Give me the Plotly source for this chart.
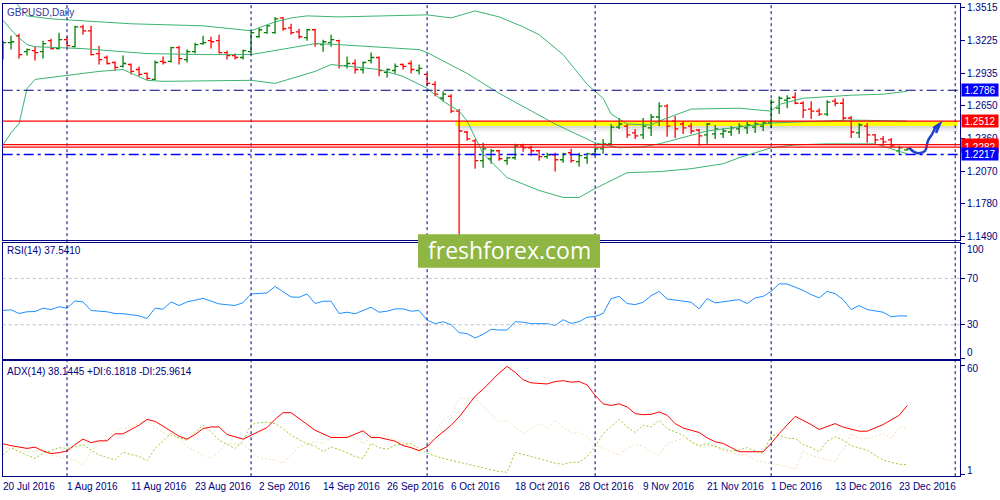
import plotly.graph_objects as go

# ======================================================
# Data (bar index 0 = 20 Jul 2016, one bar per trading day)
# ======================================================

bar_open = [1.3128, 1.3208, 1.3269, 1.3128, 1.3137, 1.3128, 1.3225, 1.3155, 1.3234, 1.3172,
            1.3348, 1.3313, 1.3111, 1.3076, 1.3032, 1.2997, 1.3014, 1.2970, 1.2935, 1.2882,
            1.3041, 1.3041, 1.3164, 1.3058, 1.3128, 1.3199, 1.3225, 1.3225, 1.3120, 1.3093,
            1.3076, 1.3128, 1.3260, 1.3296, 1.3296, 1.3427, 1.3339, 1.3304, 1.3252, 1.3322,
            1.3190, 1.3208, 1.3225, 1.3005, 1.3023, 1.2970, 1.3049, 1.3076, 1.2944, 1.2961,
            1.3014, 1.3023, 1.2961, 1.2926, 1.2838, 1.2715, 1.2733, 1.2601, 1.2416, 1.2338,
            1.2162, 1.2179, 1.2250, 1.2162, 1.2188, 1.2294, 1.2276, 1.2250, 1.2197, 1.2214,
            1.2170, 1.2232, 1.2153, 1.2188, 1.2223, 1.2267, 1.2311, 1.2460, 1.2469, 1.2408,
            1.2390, 1.2452, 1.2549, 1.2645, 1.2513, 1.2487, 1.2469, 1.2434, 1.2390, 1.2399,
            1.2399, 1.2416, 1.2443, 1.2452, 1.2460, 1.2469, 1.2496, 1.2627, 1.2698, 1.2724,
            1.2671, 1.2619, 1.2601, 1.2575, 1.2689, 1.2671, 1.2540, 1.2408, 1.2469, 1.2390,
            1.2355, 1.2346, 1.2250, 1.2258]
bar_high = [1.3225, 1.3269, 1.3287, 1.3155, 1.3172, 1.3225, 1.3243, 1.3296, 1.3260, 1.3357,
            1.3366, 1.3357, 1.3181, 1.3093, 1.3041, 1.3093, 1.3023, 1.2997, 1.2944, 1.3049,
            1.3085, 1.3172, 1.3181, 1.3146, 1.3208, 1.3269, 1.3260, 1.3278, 1.3137, 1.3111,
            1.3146, 1.3304, 1.3339, 1.3366, 1.3436, 1.3436, 1.3375, 1.3331, 1.3331, 1.3331,
            1.3234, 1.3278, 1.3234, 1.3085, 1.3058, 1.3041, 1.3120, 1.3085, 1.2979, 1.3023,
            1.3023, 1.3049, 1.3014, 1.2935, 1.2865, 1.2777, 1.2751, 1.2619, 1.2425, 1.2355,
            1.2320, 1.2267, 1.2258, 1.2197, 1.2311, 1.2311, 1.2294, 1.2258, 1.2232, 1.2232,
            1.2232, 1.2267, 1.2232, 1.2232, 1.2276, 1.2355, 1.2487, 1.2540, 1.2487, 1.2443,
            1.2540, 1.2575, 1.2680, 1.2663, 1.2557, 1.2513, 1.2496, 1.2443, 1.2496, 1.2478,
            1.2452, 1.2469, 1.2496, 1.2504, 1.2513, 1.2513, 1.2707, 1.2733, 1.2742, 1.2768,
            1.2689, 1.2689, 1.2627, 1.2698, 1.2715, 1.2715, 1.2557, 1.2496, 1.2496, 1.2399,
            1.2381, 1.2364, 1.2294, 1.2276]
bar_low = [1.3058, 1.3146, 1.3067, 1.3093, 1.3049, 1.3067, 1.3146, 1.3146, 1.3172, 1.3164,
           1.3278, 1.3093, 1.3014, 1.3014, 1.2962, 1.2988, 1.2926, 1.2909, 1.2874, 1.2874,
           1.3014, 1.3032, 1.3014, 1.3032, 1.3111, 1.3190, 1.3155, 1.3111, 1.3058, 1.3058,
           1.3058, 1.3111, 1.3252, 1.3287, 1.3287, 1.3313, 1.3278, 1.3243, 1.3225, 1.3172,
           1.3128, 1.3172, 1.2979, 1.2979, 1.2935, 1.2935, 1.3023, 1.2909, 1.2900, 1.2935,
           1.2970, 1.2935, 1.2926, 1.2821, 1.2733, 1.2689, 1.2584, 1.1491, 1.2338, 1.2091,
           1.2100, 1.2135, 1.2162, 1.2126, 1.2170, 1.2241, 1.2206, 1.2162, 1.2179, 1.2065,
           1.2144, 1.2144, 1.2109, 1.2135, 1.2206, 1.2223, 1.2294, 1.2443, 1.2364, 1.2355,
           1.2355, 1.2381, 1.2469, 1.2373, 1.2364, 1.2399, 1.2399, 1.2294, 1.2311, 1.2355,
           1.2364, 1.2381, 1.2399, 1.2399, 1.2408, 1.2425, 1.2452, 1.2575, 1.2627, 1.2663,
           1.2540, 1.2531, 1.2557, 1.2557, 1.2645, 1.2513, 1.2364, 1.2364, 1.2320, 1.2311,
           1.2294, 1.2276, 1.2223, 1.2250]
bar_close = [1.3208, 1.3216, 1.3102, 1.3146, 1.3120, 1.3199, 1.3155, 1.3234, 1.3181, 1.3348,
             1.3313, 1.3102, 1.3058, 1.3023, 1.2988, 1.3023, 1.2953, 1.2926, 1.2891, 1.3032,
             1.3032, 1.3164, 1.3067, 1.3128, 1.3190, 1.3208, 1.3216, 1.3120, 1.3093, 1.3076,
             1.3137, 1.3296, 1.3322, 1.3357, 1.3418, 1.3331, 1.3296, 1.3260, 1.3322, 1.3199,
             1.3216, 1.3234, 1.3005, 1.3023, 1.2970, 1.3032, 1.3076, 1.2961, 1.2970, 1.2997,
             1.2997, 1.2970, 1.2979, 1.2847, 1.2751, 1.2751, 1.2601, 1.2425, 1.2355, 1.2162,
             1.2267, 1.2250, 1.2179, 1.2188, 1.2294, 1.2276, 1.2250, 1.2197, 1.2214, 1.2170,
             1.2223, 1.2162, 1.2206, 1.2223, 1.2267, 1.2311, 1.2460, 1.2487, 1.2390, 1.2381,
             1.2469, 1.2549, 1.2645, 1.2469, 1.2443, 1.2452, 1.2425, 1.2381, 1.2487, 1.2443,
             1.2425, 1.2452, 1.2469, 1.2478, 1.2487, 1.2496, 1.2680, 1.2715, 1.2715, 1.2671,
             1.2610, 1.2601, 1.2575, 1.2680, 1.2671, 1.2540, 1.2416, 1.2478, 1.2390, 1.2346,
             1.2329, 1.2294, 1.2276, 1.2267]

# Bollinger-style bands
bb_upper_bar = [0, 3, 6, 10, 16, 25, 31, 34, 36, 38, 42, 53, 56, 59, 62, 65, 67, 70, 73, 75,
                76, 78, 81, 82, 86, 92, 96, 97, 100, 106, 110, 113]
bb_upper = [1.3700, 1.3445, 1.3419, 1.3401, 1.3375, 1.3357, 1.3313, 1.3392, 1.3427, 1.3445,
            1.3436, 1.3454, 1.3427, 1.3489, 1.3436, 1.3348, 1.3278, 1.3102, 1.2838, 1.2715,
            1.2575, 1.2487, 1.2478, 1.2513, 1.2619, 1.2627, 1.2601, 1.2660, 1.2715, 1.2742,
            1.2751, 1.2777]
bb_mid_bar = [0, 1, 2, 3, 4, 10, 18, 25, 31, 39, 42, 52, 53, 58, 62, 66, 69, 74, 77, 80,
              82, 88, 96, 106, 113]
bb_mid = [1.3407, 1.3322, 1.3252, 1.3190, 1.3172, 1.3155, 1.3111, 1.3102, 1.3102, 1.3199,
          1.3190, 1.3146, 1.3120, 1.2935, 1.2759, 1.2601, 1.2487, 1.2320, 1.2276, 1.2285,
          1.2311, 1.2425, 1.2496, 1.2522, 1.2513]
bb_lower_bar = [0, 1, 2, 3, 4, 6, 12, 15, 18, 20, 31, 34, 39, 41, 47, 50, 53, 55, 57, 58,
                60, 63, 67, 70, 72, 74, 78, 82, 86, 90, 92, 96, 99, 103, 109, 111, 113]
bb_lower = [1.2302, 1.2410, 1.2490, 1.2800, 1.2882, 1.2900, 1.2953, 1.2970, 1.2874, 1.2865,
            1.2874, 1.2847, 1.2953, 1.3014, 1.2970, 1.2909, 1.2803, 1.2689, 1.2601, 1.2513,
            1.2223, 1.2012, 1.1898, 1.1836, 1.1836, 1.1915, 1.2056, 1.2065, 1.2091, 1.2135,
            1.2188, 1.2276, 1.2302, 1.2311, 1.2311, 1.2267, 1.2223]

rsi_bar = [0, 1, 2, 3, 4, 5, 6, 7, 8, 9, 10, 11, 13, 14, 15, 17, 18, 19, 20, 21,
           22, 23, 25, 27, 29, 30, 31, 33, 34, 35, 36, 37, 38, 39, 40, 41, 42, 43, 44, 46,
           47, 48, 49, 50, 51, 52, 53, 54, 55, 56, 57, 58, 59, 60, 61, 62, 63, 64, 65, 66,
           68, 69, 70, 71, 72, 73, 74, 75, 76, 77, 78, 79, 80, 81, 82, 83, 85, 86, 87, 88,
           89, 90, 92, 93, 94, 95, 96, 97, 98, 100, 101, 102, 103, 104, 105, 106, 107, 108, 109, 110,
           111, 112, 113]
rsi_val = [42.3, 42.9, 39.7, 41.2, 41.4, 44.3, 43.1, 45.5, 44.3, 50.6, 49.7, 42.3, 41.2, 39.7, 39.5, 37.7, 35.4, 44.3, 43.4, 49.7,
           46.6, 49.7, 52.8, 48.0, 46.6, 49.1, 56.6, 57.5, 63.1, 58.3, 54.0, 53.7, 56.6, 48.3, 50.3, 50.3, 39.7, 40.8, 39.5, 45.1,
           40.8, 41.7, 43.7, 43.7, 41.7, 42.3, 34.0, 30.9, 32.6, 30.0, 23.2, 22.3, 18.5, 21.7, 26.0, 25.4, 25.4, 32.6, 32.2, 30.9,
           30.9, 29.4, 34.3, 31.1, 32.6, 36.5, 37.1, 39.7, 52.6, 54.5, 48.3, 47.4, 49.4, 55.1, 58.8, 52.3, 50.3, 49.4, 43.7, 52.6,
           48.9, 50.0, 51.7, 48.3, 53.2, 54.5, 58.8, 65.4, 65.2, 59.7, 56.0, 53.2, 58.8, 56.9, 51.7, 43.1, 46.6, 43.1, 41.7, 40.8,
           36.9, 37.7, 37.5]

adx_bar = [0, 1, 3, 4, 5, 6, 7, 8, 9, 10, 11, 12, 13, 14, 15, 16, 17, 18, 19, 20,
           21, 22, 23, 24, 25, 26, 27, 28, 30, 31, 33, 34, 35, 36, 37, 38, 39, 41, 43, 45,
           46, 47, 49, 50, 51, 52, 53, 54, 56, 57, 59, 60, 62, 63, 64, 65, 66, 68, 69, 70,
           71, 72, 73, 74, 75, 76, 77, 78, 79, 80, 81, 82, 83, 84, 85, 87, 88, 89, 90, 92,
           95, 96, 97, 99, 100, 101, 102, 103, 104, 105, 107, 108, 109, 110, 112, 113]
adx_val = [17.5, 16.5, 15.0, 15.7, 13.6, 12.2, 12.7, 13.6, 17.1, 20.0, 18.1, 19.1, 19.1, 22.9, 22.9, 25.3, 27.5, 30.7, 29.6, 27.0,
           24.3, 21.6, 20.0, 22.5, 25.7, 26.6, 26.6, 22.5, 20.0, 22.1, 26.3, 30.7, 34.3, 34.3, 31.1, 27.9, 24.8, 20.9, 20.9, 24.5,
           20.9, 20.9, 18.9, 16.5, 15.4, 13.8, 15.9, 20.4, 27.5, 32.0, 43.2, 47.0, 55.7, 59.3, 56.1, 52.1, 50.4, 49.8, 51.1, 51.6,
           50.8, 51.1, 49.3, 43.6, 39.1, 38.2, 39.1, 37.4, 33.8, 33.2, 33.4, 34.7, 32.9, 28.4, 26.0, 23.6, 20.7, 18.6, 17.7, 13.2,
           13.2, 17.7, 23.0, 32.3, 30.2, 27.9, 25.2, 26.6, 28.4, 26.5, 24.3, 24.3, 26.1, 27.9, 32.9, 38.1]

pdi_bar = [0, 1, 2, 4, 5, 7, 8, 10, 11, 12, 14, 15, 17, 18, 19, 21, 22, 23, 24, 25,
           26, 27, 29, 30, 31, 32, 33, 34, 35, 36, 38, 39, 40, 41, 43, 44, 45, 46, 47, 48,
           49, 51, 52, 53, 55, 58, 60, 62, 63, 64, 66, 67, 69, 70, 71, 72, 73, 74, 75, 77,
           78, 79, 80, 81, 82, 83, 85, 86, 87, 88, 90, 91, 92, 93, 94, 95, 96, 97, 98, 99,
           100, 101, 102, 103, 104, 105, 106, 108, 109, 110, 112, 113]
pdi_val = [11.4, 15.4, 13.2, 9.6, 12.3, 15.4, 15.0, 17.1, 14.1, 11.4, 8.7, 12.9, 10.6, 8.4, 15.0, 23.0, 20.7, 19.4, 23.6, 27.5,
           24.0, 19.4, 15.0, 18.9, 27.9, 28.9, 29.3, 28.4, 25.7, 22.1, 17.5, 16.4, 13.2, 15.9, 12.7, 10.6, 9.6, 17.7, 15.4, 14.6,
           16.8, 17.7, 15.0, 12.3, 9.6, 6.4, 4.3, 2.5, 2.1, 12.9, 10.6, 9.3, 7.0, 6.4, 7.5, 7.5, 10.6, 15.9, 23.0, 30.7,
           26.6, 23.6, 27.5, 26.6, 30.2, 25.7, 22.1, 18.6, 16.4, 17.7, 14.6, 13.6, 14.1, 15.4, 13.6, 12.3, 22.1, 22.1, 20.4, 20.4,
           17.1, 15.4, 13.2, 18.9, 21.3, 19.4, 16.4, 14.1, 11.4, 8.7, 6.4, 6.2]

mdi_bar = [0, 1, 2, 3, 5, 6, 8, 9, 10, 11, 12, 13, 14, 15, 16, 17, 18, 19, 20, 22,
           23, 25, 26, 27, 28, 30, 31, 32, 34, 35, 36, 37, 39, 40, 41, 42, 44, 45, 47, 48,
           50, 51, 52, 53, 54, 55, 56, 57, 58, 59, 60, 62, 63, 64, 65, 66, 67, 68, 69, 70,
           71, 72, 73, 74, 75, 77, 78, 79, 80, 81, 82, 83, 85, 86, 87, 88, 90, 91, 93, 94,
           95, 97, 98, 99, 100, 101, 102, 104, 105, 106, 107, 108, 110, 111, 112, 113]
mdi_val = [14.1, 16.5, 14.1, 12.9, 14.1, 11.4, 9.6, 8.7, 6.1, 13.2, 18.6, 20.4, 24.8, 25.7, 26.6, 28.4, 30.2, 26.6, 23.6, 20.4,
           15.9, 11.4, 9.6, 13.2, 17.7, 17.1, 13.6, 10.0, 8.7, 7.0, 11.4, 15.9, 18.6, 17.7, 20.4, 23.0, 20.4, 17.7, 23.6, 21.3,
           18.2, 15.4, 13.6, 15.9, 23.6, 30.2, 32.8, 42.2, 41.8, 42.7, 37.4, 29.3, 30.2, 26.6, 23.0, 25.7, 28.4, 25.7, 30.2, 26.6,
           23.0, 24.0, 21.3, 16.8, 15.0, 11.4, 15.0, 17.1, 16.4, 13.2, 11.4, 17.7, 20.4, 19.4, 15.4, 16.8, 14.1, 12.3, 11.4, 8.7,
           7.5, 6.1, 5.2, 3.8, 13.6, 11.4, 10.0, 7.9, 14.1, 23.0, 20.4, 20.4, 23.0, 20.4, 26.5, 26.0]

date_tick_bar = [0, 8, 16, 24, 32, 40, 48, 56, 64, 72, 80, 88, 96, 104, 112]
date_tick_text = ["20 Jul 2016", "1 Aug 2016", "11 Aug 2016", "23 Aug 2016", "2 Sep 2016",
                  "14 Sep 2016", "26 Sep 2016", "6 Oct 2016", "18 Oct 2016", "28 Oct 2016",
                  "9 Nov 2016", "21 Nov 2016", "1 Dec 2016", "13 Dec 2016", "23 Dec 2016"]
month_sep_bar = [8, 31, 53, 74, 96, 119]

price_ticks = [1.3515, 1.3225, 1.2935, 1.2650, 1.2360, 1.2070, 1.1780, 1.1490]

level_blue = [1.2786, 1.2217]
level_red = [1.2512, 1.2305, 1.2282]
zone_bars = [56.5, 119.3]
zone_prices = [1.2470, 1.2512]

# hand drawn arrow (bar, price)
arrow_bar = [113.2, 114.0, 114.6, 115.25, 115.6, 116.1, 116.5, 117.1]
arrow_price = [1.2279, 1.2235, 1.2229, 1.2250, 1.2338, 1.2396, 1.2447, 1.2489]

# ======================================================
# Figure
# ======================================================

NAVY = "#000080"
FONT = "Liberation Sans"
X_RANGE = [-0.04, 119.6]
X_DOM = [0.0027, 0.96]
MAIN_DOM = [0.52, 0.9954]
RSI_DOM = [0.28, 0.5146]
ADX_DOM = [0.044, 0.2754]

fig = go.Figure()

fig.add_trace(go.Ohlc(
    x=list(range(len(bar_open))),
    open=bar_open, high=bar_high, low=bar_low, close=bar_close,
    increasing=dict(line=dict(color="#008000", width=1.3)),
    decreasing=dict(line=dict(color="#ff0000", width=1.3)),
    tickwidth=0.4, hoverinfo="skip", xaxis="x", yaxis="y"
))

for bx, by in [(bb_upper_bar, bb_upper), (bb_mid_bar, bb_mid), (bb_lower_bar, bb_lower)]:
    fig.add_trace(go.Scatter(x=bx, y=by, mode="lines",
                             line=dict(color="#3cb371", width=1),
                             hoverinfo="skip", xaxis="x", yaxis="y"))

fig.add_trace(go.Scatter(x=arrow_bar, y=arrow_price, mode="lines",
                         line=dict(color="#1f3fcf", width=2.5, shape="spline"),
                         hoverinfo="skip", xaxis="x", yaxis="y"))

fig.add_trace(go.Scatter(x=rsi_bar, y=rsi_val, mode="lines",
                         line=dict(color="#1e90ff", width=1),
                         hoverinfo="skip", xaxis="x2", yaxis="y2"))

fig.add_trace(go.Scatter(x=mdi_bar, y=mdi_val, mode="lines",
                         line=dict(color="#f5deb3", width=1, dash="2px,2px"),
                         hoverinfo="skip", xaxis="x3", yaxis="y3"))
fig.add_trace(go.Scatter(x=pdi_bar, y=pdi_val, mode="lines",
                         line=dict(color="#9acd32", width=1, dash="2px,2px"),
                         hoverinfo="skip", xaxis="x3", yaxis="y3"))
fig.add_trace(go.Scatter(x=adx_bar, y=adx_val, mode="lines",
                         line=dict(color="#ff0000", width=1),
                         hoverinfo="skip", xaxis="x3", yaxis="y3"))

shapes = []

# month separators
for b in month_sep_bar:
    shapes.append(dict(type="line", xref="x", yref="paper", x0=b, x1=b,
                       y0=ADX_DOM[0], y1=MAIN_DOM[1],
                       line=dict(color=NAVY, width=1, dash="3px,3px"), layer="above"))

# yellow zone with soft shadow
for k, alpha in enumerate([0.22, 0.14, 0.07]):
    shapes.append(dict(type="rect", xref="x", yref="y", x0=zone_bars[0] + 0.3, x1=zone_bars[1],
                       y0=zone_prices[0] - 0.0018 * (k + 1), y1=zone_prices[0] - 0.0018 * k,
                       fillcolor=f"rgba(90,90,90,{alpha})", line=dict(width=0), layer="below"))
shapes.append(dict(type="rect", xref="x", yref="y", x0=zone_bars[0], x1=zone_bars[1],
                   y0=zone_prices[0], y1=zone_prices[1],
                   fillcolor="#ffff00", line=dict(width=0), layer="below"))

# horizontal levels
shapes.append(dict(type="line", xref="paper", yref="y", x0=X_DOM[0], x1=X_DOM[1],
                   y0=level_blue[0], y1=level_blue[0],
                   line=dict(color=NAVY, width=1, dash="10px,4px,3px,4px")))
shapes.append(dict(type="line", xref="paper", yref="y", x0=X_DOM[0], x1=X_DOM[1],
                   y0=level_blue[1], y1=level_blue[1],
                   line=dict(color="#0000ff", width=1.5, dash="10px,4px,3px,4px")))
for lv in level_red:
    shapes.append(dict(type="line", xref="paper", yref="y", x0=X_DOM[0], x1=X_DOM[1],
                       y0=lv, y1=lv, line=dict(color="#ff0000", width=1.2)))

# RSI levels
for lv in [70, 30]:
    shapes.append(dict(type="line", xref="paper", yref="y2", x0=X_DOM[0], x1=X_DOM[1],
                       y0=lv, y1=lv, line=dict(color="#c0c0c0", width=1, dash="3px,3px")))

# arrow head
shapes.append(dict(type="path", xref="x", yref="y",
                   path=f"M {arrow_bar[-1]-0.85},{arrow_price[-1]-0.0037} L {arrow_bar[-1]},{arrow_price[-1]} "
                        f"L {arrow_bar[-1]-0.5},{arrow_price[-1]-0.0081}",
                   line=dict(color="#1f3fcf", width=2.5)))

# watermark
shapes.append(dict(type="rect", xref="paper", yref="paper", x0=0.418, x1=0.600, y0=0.464, y1=0.532,
                   fillcolor="#8fb543", line=dict(width=0), layer="above"))

annotations = []
label_font = dict(family=FONT, size=10, color=NAVY)

annotations.append(dict(text="GBPUSD,Daily", xref="paper", yref="paper", x=0.005, y=0.978,
                        xanchor="left", yanchor="middle", showarrow=False,
                        font=dict(family=FONT, size=10, color="#34349c")))
annotations.append(dict(text="RSI(14) 37.5410", xref="paper", yref="paper", x=0.005, y=0.498,
                        xanchor="left", yanchor="middle", showarrow=False, font=label_font))
annotations.append(dict(text="ADX(14) 38.1445 +DI:6.1818 -DI:25.9614", xref="paper", yref="paper",
                        x=0.005, y=0.256, xanchor="left", yanchor="middle", showarrow=False,
                        font=label_font))

for txt, yy in [("100", 0.502), ("0", 0.294), ("60", 0.262), ("1", 0.056)]:
    annotations.append(dict(text=txt, xref="paper", yref="paper", x=0.965, y=yy,
                            xanchor="left", yanchor="middle", showarrow=False, font=label_font))

for b, t in zip(date_tick_bar, date_tick_text):
    annotations.append(dict(text=t, xref="x3", yref="paper", x=b, y=0.024, xshift=-2,
                            xanchor="left", yanchor="middle", showarrow=False, font=label_font))

# price labels on the right
for txt, val, col in [("1.2786", level_blue[0], "#0000ff"), ("1.2512", level_red[0], "#ff0000"),
                      ("1.2305", level_red[1], "#ff0000"), ("1.2282", level_red[2], "#ff0000"),
                      ("1.2217", level_blue[1], "#0000ff")]:
    annotations.append(dict(text=txt, xref="paper", yref="y", x=0.961, y=val,
                            xanchor="left", yanchor="middle", showarrow=False,
                            bgcolor=col, width=34, height=10, borderpad=1,
                            font=dict(family=FONT, size=10, color="white")))

annotations.append(dict(text="freshforex.com", xref="paper", yref="paper", x=0.509, y=0.499,
                        xanchor="center", yanchor="middle", showarrow=False,
                        font=dict(family="Open Sans", size=23, color="white")))

axis_common = dict(showgrid=False, zeroline=False, showline=True, mirror=True,
                   linecolor=NAVY, linewidth=1)

fig.update_layout(
    width=1000, height=500,
    margin=dict(l=0, r=0, t=0, b=0),
    paper_bgcolor="white", plot_bgcolor="white",
    showlegend=False, hovermode=False,
    font=dict(family=FONT, size=10, color=NAVY),
    xaxis=dict(domain=X_DOM, range=X_RANGE, anchor="y", showticklabels=False, ticks="",
               rangeslider=dict(visible=False), **axis_common),
    xaxis2=dict(domain=X_DOM, range=X_RANGE, anchor="y2", showticklabels=False, ticks="",
                **axis_common),
    xaxis3=dict(domain=X_DOM, range=X_RANGE, anchor="y3", showticklabels=False, ticks="",
                **axis_common),
    yaxis=dict(domain=MAIN_DOM, range=[1.14584, 1.35478], anchor="x", side="right",
               tickvals=price_ticks, ticktext=[f"{p:.4f}" for p in price_ticks],
               ticks="outside", ticklen=4, tickcolor=NAVY,
               tickfont=dict(family=FONT, size=10, color=NAVY), **axis_common),
    yaxis2=dict(domain=RSI_DOM, range=[0.26, 100.86], anchor="x2", side="right",
                tickvals=[0.8, 30, 70, 100], ticktext=["", "30", "70", ""],
                ticks="outside", ticklen=4, tickcolor=NAVY,
                tickfont=dict(family=FONT, size=10, color=NAVY), **axis_common),
    yaxis3=dict(domain=ADX_DOM, range=[0, 62], anchor="x3", side="right",
                tickvals=[1, 60], ticktext=["", ""],
                ticks="outside", ticklen=4, tickcolor=NAVY, **axis_common),
    shapes=shapes,
    annotations=annotations,
)

# drop the browser's default page margin so the 1000x500 figure fills the window
fig.write_html("out.html", config={"displayModeBar": False},
               post_script="document.body.style.margin='0px';")
